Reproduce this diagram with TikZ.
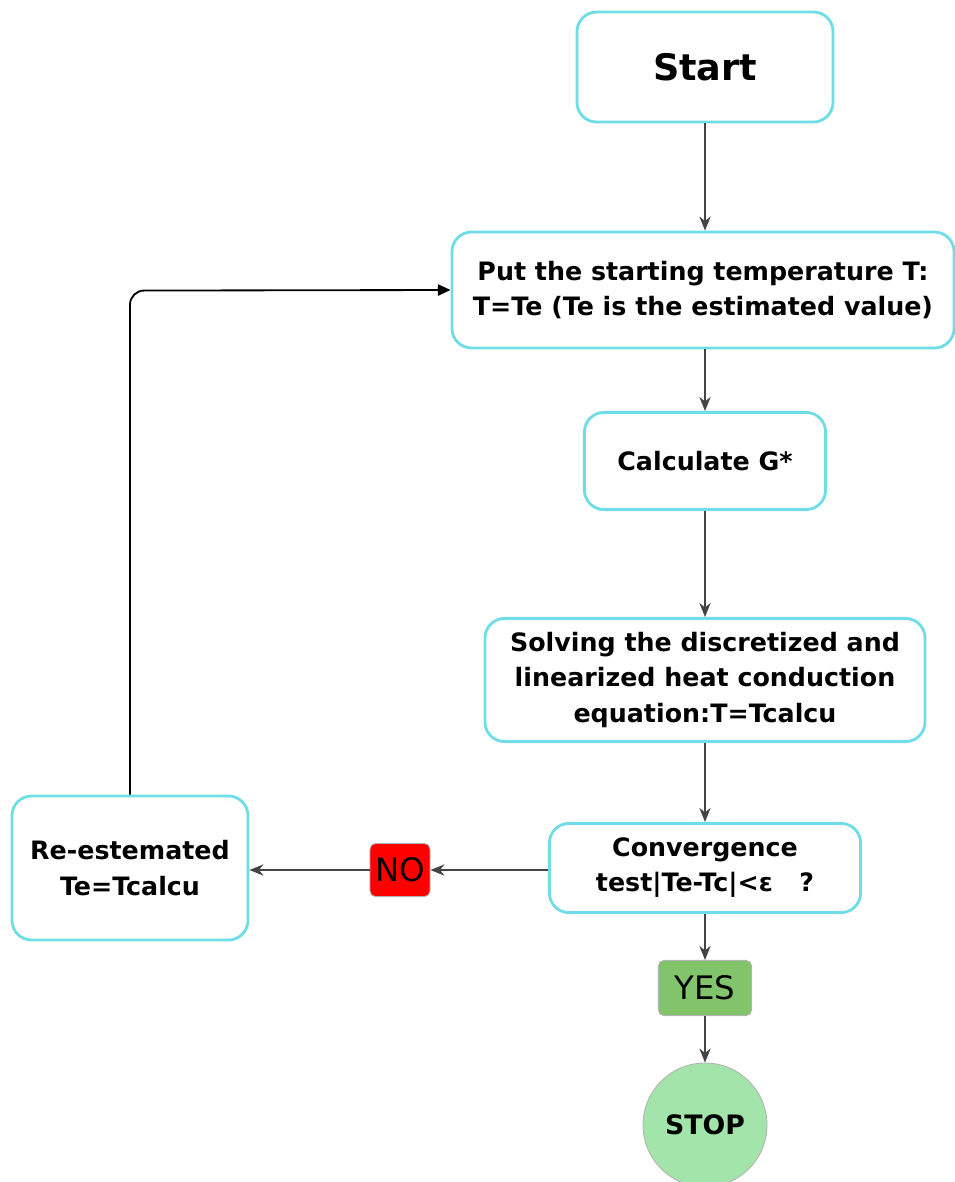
\documentclass[tikz,border=0pt]{standalone}
\usepackage{fontspec}
\setmainfont{DejaVu Sans}
\usetikzlibrary{arrows.meta}
\definecolor{boxcyan}{HTML}{6EDDE6}
\definecolor{arrowgray}{HTML}{444444}
\definecolor{nored}{HTML}{FF0000}
\definecolor{yesgreen}{HTML}{82C46C}
\definecolor{stopgreen}{HTML}{A3E4AA}
\begin{document}
\begin{tikzpicture}[x=0.025cm,y=-0.025cm,
    box/.style={draw=boxcyan,line width=2pt,rounded corners=14pt,fill=white,align=center,
      inner sep=0pt,font=\bfseries\fontsize{18}{25}\selectfont},
    tag/.style={draw=gray!60,line width=0.6pt,rounded corners=4pt,inner sep=0pt,
      font=\fontsize{23}{25}\selectfont},
    flow/.style={-{Stealth[length=10pt,width=8pt]},line width=1.3pt,draw=arrowgray},
    loopback/.style={-{Triangle[length=9pt,width=8pt]},line width=1.3pt,draw=black,rounded corners=10pt}]
    \useasboundingbox (0,0) rectangle (954,1182);

    \node[box,minimum width=6.4cm,minimum height=2.75cm,font=\bfseries\fontsize{26}{28}\selectfont] (start) at (705,67) {Start};
    \node[box,minimum width=12.55cm,minimum height=2.9cm] (put) at (703,290) {Put the starting temperature T:\\T=Te (Te is the estimated value)};
    \node[box,minimum width=6.03cm,minimum height=2.43cm] (calc) at (705,461) {Calculate G*};
    \node[box,minimum width=11cm,minimum height=3.08cm] (solve) at (705,680) {Solving the discretized and\\linearized heat conduction\\equation:T=Tcalcu};
    \node[box,minimum width=7.78cm,minimum height=2.23cm] (conv) at (705,868) {Convergence\\test|Te-Tc|<ε\ \ \ ?};
    \node[box,minimum width=5.9cm,minimum height=3.6cm] (reest) at (130,868) {Re-estemated\\Te=Tcalcu};
    \node[tag,fill=nored,minimum width=1.5cm,minimum height=1.33cm] (no) at (400,870) {NO};
    \node[tag,fill=yesgreen,minimum width=2.33cm,minimum height=1.38cm] (yes) at (705,988) {YES};
    \node[circle,draw=gray!60,line width=0.6pt,fill=stopgreen,minimum size=3.1cm,inner sep=0pt,
      font=\bfseries\fontsize{19}{21}\selectfont] (stop) at (705,1125) {STOP};

    \draw[flow] (start) -- (start |- put.north);
    \draw[flow] (start |- put.south) -- (calc);
    \draw[flow] (calc) -- (solve);
    \draw[flow] (solve) -- (conv);
    \draw[flow] (conv) -- (yes);
    \draw[flow] (yes) -- (stop);
    \draw[flow] (conv.west |- no) -- (no);
    \draw[flow] (no) -- (reest.east |- no);
    \draw[loopback] (reest.north) -- ++(0,-504) -- (put.west);
\end{tikzpicture}
\end{document}
